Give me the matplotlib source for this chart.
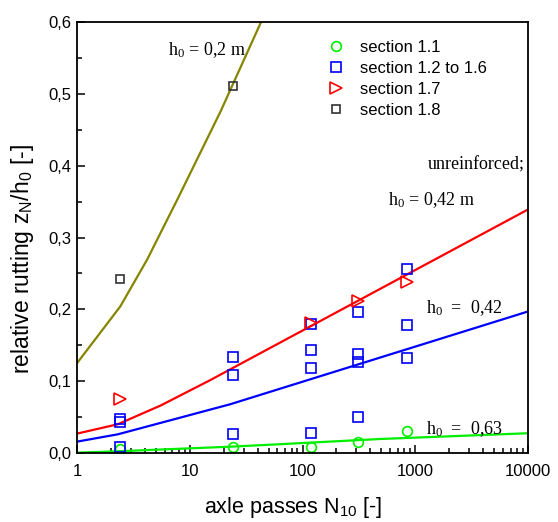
import numpy as np
import matplotlib
matplotlib.use("Agg")
import matplotlib.pyplot as plt
from matplotlib.ticker import FixedLocator, NullFormatter, LogLocator

# measured passes (x) for each marker group
sec11_x = [2.4, 24, 120, 313, 840]
sec11_y = [0.005, 0.008, 0.0088, 0.015, 0.030]

sec12_x = [2.4, 2.4, 2.4, 24, 24, 24, 120, 120, 120, 120, 313, 313, 313, 313, 840, 840, 840]
sec12_y = [0.048, 0.043, 0.009, 0.133, 0.108, 0.027, 0.180, 0.1435, 0.119, 0.028,
           0.196, 0.138, 0.126, 0.050, 0.256, 0.178, 0.132]

sec17_x = [2.4, 120, 313, 840]
sec17_y = [0.075, 0.1815, 0.212, 0.2386]

sec18_x = [2.4, 24]
sec18_y = [0.242, 0.511]

# fitted curves
olive_x = [1, 2.42, 4.18, 7.71, 18.7, 42.9]
olive_y = [0.125, 0.204, 0.269, 0.352, 0.475, 0.600]

red_x = [1, 2.3, 5.5, 15, 10000]
red_y = [0.027, 0.040, 0.066, 0.101, 0.339]

blue_x = [1, 2.3, 7.7, 23, 10000]
blue_y = [0.0158, 0.026, 0.048, 0.068, 0.197]

green_x = [1, 2.3, 23, 59, 487, 10000]
green_y = [0.0005, 0.0024, 0.0088, 0.012, 0.0195, 0.0275]

yticks = [0.0, 0.1, 0.2, 0.3, 0.4, 0.5, 0.6]
ytick_labels = ["0,0", "0,1", "0,2", "0,3", "0,4", "0,5", "0,6"]
xticks = [1, 10, 100, 1000, 10000]
xtick_labels = ["1", "10", "100", "1000", "10000"]

plt.rcParams['font.family'] = ['Liberation Sans', 'DejaVu Sans']
plt.rcParams['mathtext.default'] = 'regular'

fig = plt.figure(figsize=(5.58, 5.22), dpi=100)
ax = fig.add_axes([77/558, 69/522, 451/558, 431/522])

ax.plot(olive_x, olive_y, color='#858500', lw=1.6)
ax.plot(red_x, red_y, color='#ff0000', lw=1.6)
ax.plot(blue_x, blue_y, color='#0000ff', lw=1.6)
ax.plot(green_x, green_y, color='#00ee00', lw=1.6)

ax.plot(sec11_x, sec11_y, 'o', ls='none', ms=7, mfc='none', mec='#00ee00', mew=1.2, label='section 1.1')
ax.plot(sec12_x, sec12_y, 's', ls='none', ms=7, mfc='none', mec='#0000ff', mew=1.2, label='section 1.2 to 1.6')
ax.plot(sec17_x, sec17_y, '>', ls='none', ms=8.5, mfc='none', mec='#ff0000', mew=1.2, label='section 1.7')
ax.plot(sec18_x, sec18_y, 's', ls='none', ms=6, mfc='none', mec='#333333', mew=1.2, label='section 1.8')

ax.set_xscale('log')
ax.set_xlim(1, 10000)
ax.set_ylim(0, 0.6)
ax.xaxis.set_major_locator(FixedLocator(xticks))
ax.set_xticklabels(xtick_labels)
ax.xaxis.set_minor_locator(LogLocator(base=10, subs=np.arange(2, 10)))
ax.xaxis.set_minor_formatter(NullFormatter())
ax.yaxis.set_major_locator(FixedLocator(yticks))
ax.set_yticklabels(ytick_labels)
ax.yaxis.set_minor_locator(FixedLocator([0.05, 0.15, 0.25, 0.35, 0.45, 0.55]))

ax.tick_params(which='both', direction='in', top=False, right=False, labelsize=12, width=1.1)
ax.tick_params(which='major', length=6)
ax.tick_params(which='minor', length=3.5)
ax.tick_params(axis='x', pad=8)
ax.tick_params(axis='y', pad=4)
for s in ax.spines.values():
    s.set_linewidth(1.3)

ax.set_xlabel('axle passes N$_{10}$ [-]', fontsize=15.5)
ax.xaxis.set_label_coords(0.48, -0.098)
ax.set_ylabel('relative rutting z$_N$/h$_0$ [-]', fontsize=16.5)
ax.yaxis.set_label_coords(-0.09, 0.45)

leg = ax.legend(loc='upper left', bbox_to_anchor=(0.542, 0.974), frameon=False, fontsize=12,
                handlelength=1.0, handletextpad=0.9, labelspacing=0.36, borderaxespad=0)

serif = ['Liberation Serif', 'DejaVu Serif']
ax.text(0.2018, 0.9234, 'h$_0$ = 0,2 m', transform=ax.transAxes, fontsize=13, family=serif, va='baseline')
ax.text(0.9918, 0.659, 'unreinforced;', transform=ax.transAxes, fontsize=13, family=serif, va='baseline', ha='right')
ax.text(0.690, 0.5754, 'h$_0$ = 0,42 m', transform=ax.transAxes, fontsize=13, family=serif, va='baseline')
ax.text(0.7738, 0.3255, 'h$_0$  =  0,42', transform=ax.transAxes, fontsize=13, family=serif, va='baseline')
ax.text(0.7738, 0.0441, 'h$_0$  =  0,63', transform=ax.transAxes, fontsize=13, family=serif, va='baseline')

fig.savefig('out.png', dpi=100)
